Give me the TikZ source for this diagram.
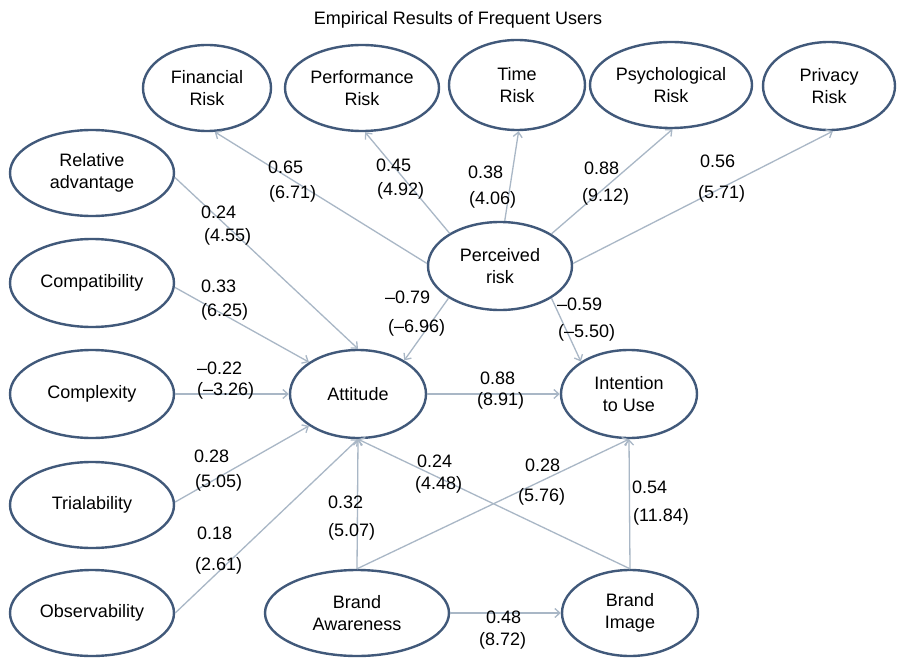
\documentclass[tikz,border=0pt]{standalone}
\usepackage{fontspec}
\setmainfont{Liberation Sans}
\usetikzlibrary{shapes.geometric,arrows.meta}
\definecolor{ebord}{HTML}{41597A}
\definecolor{arr}{HTML}{A9B7C6}
\newcommand\twolbl[7]{%
  \node[lbl] (#1a) at (#2,#3) {#6};
  \node[lbl] (#1b) at (#4,#5) {#7};}
\begin{document}
\begin{tikzpicture}[x=1pt,y=-1pt,
  every node/.style={font=\fontsize{18}{22}\selectfont},
  var/.style={ellipse, draw=ebord, line width=2.4pt, inner sep=0pt, align=center, fill=white},
  conn/.style={draw=arr, line width=1.3pt, -{Straight Barb[length=5pt,width=9pt]}},
  lbl/.style={anchor=west, inner sep=0pt}
]
\fill[white] (0,0) rectangle (897,658);
\useasboundingbox (0,0) rectangle (897,658);

\node[inner sep=0pt] (title) at (458,20) {Empirical Results of Frequent Users};

\node[var, minimum width=128pt, minimum height=86pt] (fin) at (207,88) {Financial\\Risk};
\node[var, minimum width=154pt, minimum height=86pt] (perf) at (362,88) {Performance\\Risk};
\node[var, minimum width=136pt, minimum height=90pt] (time) at (517,85) {Time\\Risk};
\node[var, minimum width=162pt, minimum height=86pt] (psych) at (671,85) {Psychological\\Risk};
\node[var, minimum width=132pt, minimum height=88pt] (priv) at (829,86) {Privacy\\Risk};

\node[var, minimum width=164pt, minimum height=86pt] (rel) at (92,173) {Relative\\advantage};
\node[var, minimum width=164pt, minimum height=88pt] (comp) at (92,283) {Compatibility};
\node[var, minimum width=164pt, minimum height=88pt] (cplx) at (92,394) {Complexity};
\node[var, minimum width=164pt, minimum height=86pt] (trial) at (92,505) {Trialability};
\node[var, minimum width=164pt, minimum height=86pt] (obs) at (92,613) {Observability};

\node[var, minimum width=136pt, minimum height=88pt] (att) at (358,394) {Attitude};
\node[var, minimum width=144pt, minimum height=88pt] (pr) at (500,266) {Perceived\\risk};
\node[var, minimum width=136pt, minimum height=88pt] (int) at (629,394) {Intention\\to Use};
\node[var, minimum width=184pt, minimum height=86pt] (ba) at (357,613) {Brand\\Awareness};
\node[var, minimum width=136pt, minimum height=86pt] (bi) at (630,613) {Brand\\Image};

\draw[conn] (pr.178) -- (fin.-80);
\draw[conn] (pr.147) -- (perf.-86);
\draw[conn] (pr.84) -- (time.-88);
\draw[conn] (pr.32) -- (psych.-88);
\draw[conn] (pr.2) -- (priv.-85);
\draw[conn] (rel.-3) -- (att.north);
\draw[conn] (comp.-3) -- (att.147);
\draw[conn] (cplx) -- (att);
\draw[conn] (trial.2) -- (att.-147);
\draw[conn] (obs.east) -- (att.south);
\draw[conn] (pr.-148) -- (att.36);
\draw[conn] (pr.-32) -- (int.146);
\draw[conn] (att) -- (int);
\draw[conn] (ba.north) -- (att.south);
\draw[conn] (bi.north) -- (att.south);
\draw[conn] (ba.north) -- (int.south);
\draw[conn] (bi.north) -- (int.south);
\draw[conn] (ba) -- (bi);

\twolbl{l1}{268}{167}{269}{194}{0.65}{(6.71)}
\twolbl{l2}{376}{165}{377}{191}{0.45}{(4.92)}
\twolbl{l3}{468}{172}{469}{200}{0.38}{(4.06)}
\twolbl{l4}{584}{168}{582}{197}{0.88}{(9.12)}
\twolbl{l5}{700}{161}{698}{194}{0.56}{(5.71)}
\twolbl{l6}{201}{212}{204}{237}{0.24}{(4.55)}
\twolbl{l7}{201}{286}{201}{312}{0.33}{(6.25)}
\twolbl{l8}{197}{368}{197}{391}{–0.22}{(–3.26)}
\twolbl{l9}{385}{297}{388}{328}{–0.79}{(–6.96)}
\twolbl{l10}{557}{304}{558}{333}{–0.59}{(–5.50)}
\twolbl{l11}{480}{378}{477}{401}{0.88}{(8.91)}
\twolbl{l12}{194}{456}{195}{483}{0.28}{(5.05)}
\twolbl{l13}{197}{533}{195}{566}{0.18}{(2.61)}
\twolbl{l14}{328}{502}{328}{532}{0.32}{(5.07)}
\twolbl{l15}{417}{461}{415}{485}{0.24}{(4.48)}
\twolbl{l16}{525}{465}{518}{497}{0.28}{(5.76)}
\twolbl{l17}{632}{487}{633}{517}{0.54}{(11.84)}
\twolbl{l18}{486}{617}{479}{641}{0.48}{(8.72)}
\end{tikzpicture}
\end{document}
